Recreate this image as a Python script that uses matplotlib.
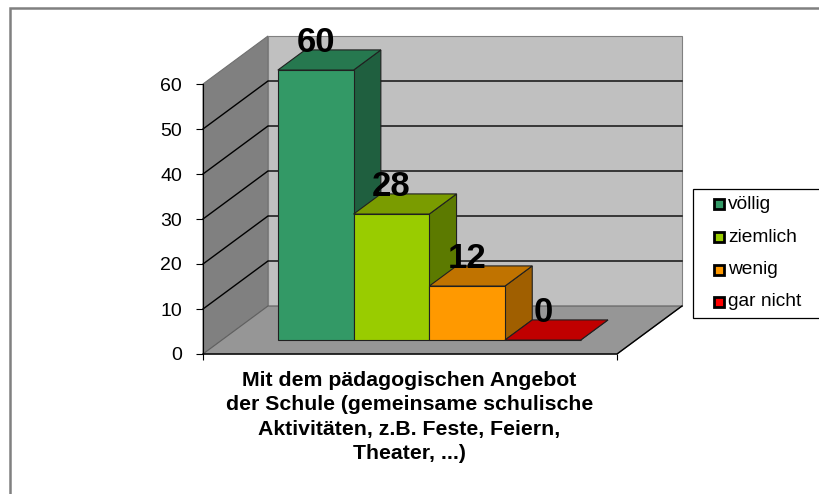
import matplotlib
matplotlib.use('Agg')
import matplotlib.pyplot as plt
from matplotlib.patches import Polygon, Rectangle

# Werte aus dem Bild
labels = ['völlig', 'ziemlich', 'wenig', 'gar nicht']
values = [60, 28, 12, 0]
yticks = [0, 10, 20, 30, 40, 50, 60]
kategorie = 'Mit dem pädagogischen Angebot\nder Schule (gemeinsame schulische\nAktivitäten, z.B. Feste, Feiern,\nTheater, ...)'

front_cols = ['#339966', '#99CC00', '#FF9900', '#FF0000']
top_cols = ['#26784F', '#7A9C00', '#C07300', '#C00000']
side_cols = ['#1F5F3F', '#5C7A00', '#A05F00', '#800000']

W, H = 819, 494
plt.rcParams['font.family'] = ['Liberation Sans', 'DejaVu Sans']
fig = plt.figure(figsize=(W / 100, H / 100), dpi=100)

# Rahmen des Diagramms (rechts und unten abgeschnitten)
fig.patches.append(Rectangle((10 / W, 1 - 520 / H), 850 / W, 512 / H, transform=fig.transFigure,
                             fc='white', ec='#808080', lw=1.8, zorder=-2))

# Achse = Vorderkante des 3D-Kastens, x = Pixelbreite der Kategorie
ax_l, ax_r, ax_t, ax_b = 203, 617, 84, 354
ax = fig.add_axes([ax_l / W, 1 - ax_b / H, (ax_r - ax_l) / W, (ax_b - ax_t) / H])
ax.set_xlim(0, 1)
ax.set_ylim(0, 60)
ax.patch.set_visible(False)

xs = 1 / (ax_r - ax_l)       # Pixel -> x
ys = 60 / (ax_b - ax_t)      # Pixel -> y
dx, dy = 65 * xs, 48 * ys    # Tiefe des Kastens
top = 60
bar_w = 75.7 * xs
gap = 56 * xs
d0, d1 = 0.29, 0.71          # Balken liegen in der Mitte der Tiefe


def p(x, y, d):
    return (x + d * dx, y + d * dy)


def poly(pts, fc, ec='none', lw=0.8, z=1):
    ax.add_patch(Polygon(pts, closed=True, fc=fc, ec=ec, lw=lw, zorder=z, clip_on=False))


# Waende und Boden
poly([p(0, 0, 0), p(0, top, 0), p(0, top, 1), p(0, 0, 1)], '#808080', ec='#707070')
poly([p(0, 0, 1), p(0, top, 1), p(1, top, 1), p(1, 0, 1)], '#C0C0C0', ec='#808080')
poly([p(0, 0, 0), p(1, 0, 0), p(1, 0, 1), p(0, 0, 1)], '#969696', ec='#606060')

# Gitterlinien
for v in yticks[1:-1]:
    ax.plot(*zip(p(0, v, 0), p(0, v, 1), p(1, v, 1)), color='black', lw=1, zorder=2, clip_on=False)
ax.plot(*zip(p(0, 0, 0), p(1, 0, 0), p(1, 0, 1)), color='black', lw=1, zorder=2, clip_on=False)

# Balken
for i, v in enumerate(values):
    x0 = gap + i * bar_w
    x1 = x0 + bar_w
    z = 3 + i
    poly([p(x1, 0, d0), p(x1, 0, d1), p(x1, v, d1), p(x1, v, d0)], side_cols[i], ec='#202020', z=z)
    poly([p(x0, v, d0), p(x1, v, d0), p(x1, v, d1), p(x0, v, d1)], top_cols[i], ec='#202020', z=z)
    poly([p(x0, 0, d0), p(x1, 0, d0), p(x1, v, d0), p(x0, v, d0)], front_cols[i], ec='#202020', z=z)
    xt, yt = p((x0 + x1) / 2, v, d0)
    ax.annotate(str(v), (xt, p(0, v, d1)[1]), xytext=(0, -1.5), textcoords='offset points',
                ha='center', va='baseline', fontsize=25, fontweight='bold', color='black',
                zorder=10, annotation_clip=False)

# Achsen
for s in ['top', 'right', 'bottom']:
    ax.spines[s].set_visible(False)
ax.spines['left'].set_linewidth(0.8)
ax.set_yticks(yticks)
ax.tick_params(axis='y', labelsize=14, length=5, width=0.8, pad=10)
ax.set_xticks([0, 1])
ax.set_xticklabels(['', ''])
ax.tick_params(axis='x', length=4, width=0.8, pad=0)
ax.text(0.4985, -0.062, kategorie, transform=ax.transAxes, ha='center', va='top', fontsize=15.35,
        fontweight='bold', linespacing=1.36, clip_on=False)

# Legende (rechts abgeschnitten)
leg_x, leg_y, leg_w, leg_h = 693, 189, 160, 129
fig.patches.append(Rectangle((leg_x / W, 1 - (leg_y + leg_h) / H), leg_w / W, leg_h / H,
                             transform=fig.transFigure, fc='white', ec='black', lw=0.9, zorder=-1))
for i, lab in enumerate(labels):
    yc = 204.5 + i * 32.5
    fig.patches.append(Rectangle((714 / W, 1 - (yc + 5) / H), 10 / W, 10 / H, transform=fig.transFigure,
                                 fc=front_cols[i], ec='black', lw=2, zorder=-1))
    fig.text(728 / W, 1 - yc / H, lab, ha='left', va='center', fontsize=13.8)

fig.savefig('out.png', dpi=100)
